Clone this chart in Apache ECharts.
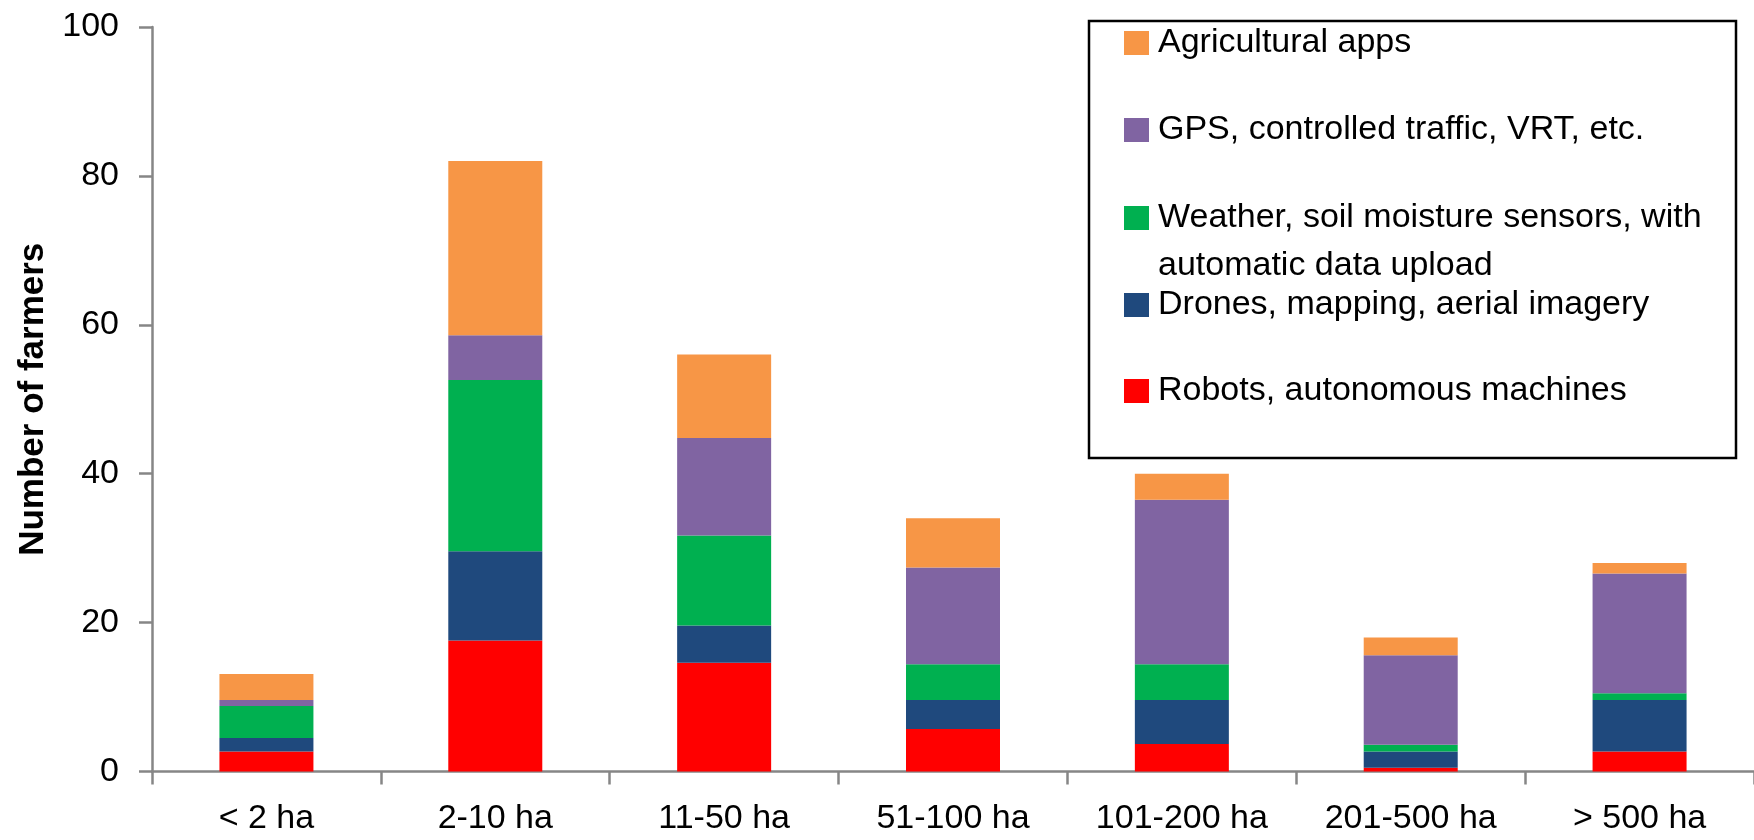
<!DOCTYPE html>
<html>
<head>
<meta charset="utf-8">
<script src="https://cdn.jsdelivr.net/npm/echarts@6/dist/echarts.min.js"></script>
<style>
html,body{margin:0;padding:0;background:#fff;}
#chart{width:1754px;height:840px;}
</style>
</head>
<body>
<div id="chart"></div>
<script>
const categories = ['< 2 ha', '2-10 ha', '11-50 ha', '51-100 ha', '101-200 ha', '201-500 ha', '> 500 ha'];
const robots  = [2.7, 17.6, 14.6, 5.7, 3.7, 0.5, 2.7];
const drones  = [1.8, 12.0, 5.0, 3.9, 5.9, 2.2, 6.9];
const weather = [4.3, 23.0, 12.1, 4.8, 4.8, 0.9, 0.9];
const gps     = [0.8, 6.0, 13.1, 13.0, 22.1, 12.0, 16.1];
const apps    = [3.5, 23.4, 11.2, 6.6, 3.5, 2.4, 1.4];
const yTicks  = [0, 20, 40, 60, 80, 100];

const names = {
  robots: 'Robots, autonomous machines',
  drones: 'Drones, mapping, aerial imagery',
  weather: 'Weather, soil moisture sensors, with automatic data upload',
  gps: 'GPS, controlled traffic, VRT, etc.',
  apps: 'Agricultural apps'
};
const colors = {
  robots: '#FF0000',
  drones: '#1F497D',
  weather: '#00B050',
  gps: '#8064A2',
  apps: '#F79646'
};

const FONT = '"Liberation Sans", Arial, sans-serif';

function mkSeries(key, data) {
  return {
    name: names[key],
    type: 'bar',
    stack: 'total',
    barWidth: 94,
    data: data,
    itemStyle: { color: colors[key] },
    emphasis: { disabled: true }
  };
}

function mkLegend(key, top, extra) {
  const ts = { fontSize: 34, fontFamily: FONT, color: '#000', lineHeight: 40, padding: [0, 0, 0, 4] };
  const lg = {
    data: [names[key]],
    left: 1124,
    top: top,
    padding: 0,
    itemWidth: 25,
    itemHeight: 24,
    icon: 'rect',
    selectedMode: false,
    textStyle: ts
  };
  if (extra) Object.assign(lg, extra(ts));
  return lg;
}

const chart = echarts.init(document.getElementById('chart'), null, { renderer: 'canvas' });
chart.setOption({
  backgroundColor: '#fff',
  animation: false,
  grid: { left: 152, right: -6, top: 27, bottom: 68.5, containLabel: false },
  xAxis: {
    type: 'category',
    data: categories,
    axisLine: { lineStyle: { color: '#868686', width: 2.5 } },
    axisTick: { show: true, length: 13, lineStyle: { color: '#868686', width: 2.5 } },
    axisLabel: { fontSize: 34, fontFamily: FONT, color: '#000', margin: 30, interval: 0 },
    splitLine: { show: false }
  },
  yAxis: {
    type: 'value',
    min: yTicks[0],
    max: yTicks[yTicks.length - 1],
    interval: yTicks[1] - yTicks[0],
    name: 'Number of farmers',
    nameLocation: 'middle',
    nameRotate: 90,
    nameGap: 101,
    nameTextStyle: { fontSize: 35, fontWeight: 'bold', fontFamily: FONT, color: '#000' },
    axisLine: { show: true, lineStyle: { color: '#868686', width: 2.5 } },
    axisTick: { show: true, length: 13, lineStyle: { color: '#868686', width: 2.5 } },
    axisLabel: { fontSize: 34, fontFamily: FONT, color: '#000', margin: 33 },
    splitLine: { show: false }
  },
  legend: [
    mkLegend('apps', 23),
    mkLegend('gps', 110),
    mkLegend('weather', 146, function (ts) {
      return {
        textStyle: Object.assign({}, ts, { lineHeight: 48 }),
        formatter: function () { return ' \nWeather, soil moisture sensors, with\nautomatic data upload'; }
      };
    }),
    mkLegend('drones', 285),
    mkLegend('robots', 371)
  ],
  graphic: [{
    type: 'rect',
    shape: { x: 1089, y: 21, width: 647, height: 437 },
    style: { fill: 'none', stroke: '#000', lineWidth: 2.5 },
    silent: true,
    z: 100
  }],
  series: [
    mkSeries('robots', robots),
    mkSeries('drones', drones),
    mkSeries('weather', weather),
    mkSeries('gps', gps),
    mkSeries('apps', apps)
  ]
});
</script>
</body>
</html>
